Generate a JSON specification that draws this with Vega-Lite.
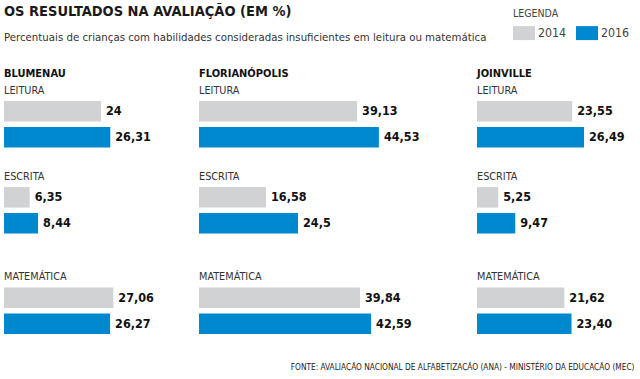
{
  "$schema": "https://vega.github.io/schema/vega-lite/v6.json",
  "padding": {"left": 4, "top": 4, "right": 0, "bottom": 0},
  "background": "white",
  "title": {
    "text": "OS RESULTADOS NA AVALIAÇÃO (EM %)",
    "subtitle": "Percentuais de crianças com habilidades consideradas insuficientes em leitura ou matemática",
    "anchor": "start",
    "frame": "group",
    "font": "DejaVu Sans Condensed, Liberation Sans Narrow, sans-serif",
    "fontSize": 14.5,
    "fontWeight": "bold",
    "color": "#1a1a1a",
    "subtitleFont": "DejaVu Sans Condensed, Liberation Sans Narrow, sans-serif",
    "subtitleFontSize": 11.35,
    "subtitleColor": "#333333",
    "subtitlePadding": 12,
    "offset": -35
  },
  "data": {
    "values": [
      {"city": "Blumenau", "subject": "LEITURA", "year": "2014", "value": 24, "label": "24"},
      {"city": "Blumenau", "subject": "LEITURA", "year": "2016", "value": 26.31, "label": "26,31"},
      {"city": "Blumenau", "subject": "ESCRITA", "year": "2014", "value": 6.35, "label": "6,35"},
      {"city": "Blumenau", "subject": "ESCRITA", "year": "2016", "value": 8.44, "label": "8,44"},
      {"city": "Blumenau", "subject": "MATEMÁTICA", "year": "2014", "value": 27.06, "label": "27,06"},
      {"city": "Blumenau", "subject": "MATEMÁTICA", "year": "2016", "value": 26.27, "label": "26,27"},
      {"city": "Florianópolis", "subject": "LEITURA", "year": "2014", "value": 39.13, "label": "39,13"},
      {"city": "Florianópolis", "subject": "LEITURA", "year": "2016", "value": 44.53, "label": "44,53"},
      {"city": "Florianópolis", "subject": "ESCRITA", "year": "2014", "value": 16.58, "label": "16,58"},
      {"city": "Florianópolis", "subject": "ESCRITA", "year": "2016", "value": 24.5, "label": "24,5"},
      {"city": "Florianópolis", "subject": "MATEMÁTICA", "year": "2014", "value": 39.84, "label": "39,84"},
      {"city": "Florianópolis", "subject": "MATEMÁTICA", "year": "2016", "value": 42.59, "label": "42,59"},
      {"city": "Joinville", "subject": "LEITURA", "year": "2014", "value": 23.55, "label": "23,55"},
      {"city": "Joinville", "subject": "LEITURA", "year": "2016", "value": 26.49, "label": "26,49"},
      {"city": "Joinville", "subject": "ESCRITA", "year": "2014", "value": 5.25, "label": "5,25"},
      {"city": "Joinville", "subject": "ESCRITA", "year": "2016", "value": 9.47, "label": "9,47"},
      {"city": "Joinville", "subject": "MATEMÁTICA", "year": "2014", "value": 21.62, "label": "21,62"},
      {"city": "Joinville", "subject": "MATEMÁTICA", "year": "2016", "value": 23.40, "label": "23,40"}
    ]
  },
  "spacing": 0,
  "bounds": "flush",
  "resolve": {"scale": {"x": "independent", "y": "shared", "color": "shared"}},
  "hconcat": [
    {
      "width": 195,
      "height": 215,
      "title": {"text": "BLUMENAU", "anchor": "start", "frame": "group", "offset": 5.5, "fontSize": 11, "fontWeight": "bold", "color": "#111111", "font": "DejaVu Sans Condensed, Liberation Sans Narrow, sans-serif"},
      "transform": [{"filter": "datum.city === 'Blumenau'"}],
      "encoding": {
        "y": {"field": "subject", "type": "nominal", "axis": null,
          "scale": {"type": "point", "padding": 1, "domain": ["LEITURA", "s1", "s2", "s3", "s4", "s5", "ESCRITA", "s6", "s7", "s8", "s9", "s10", "s11", "MATEMÁTICA"]}},
        "x": {"field": "value", "type": "quantitative", "axis": null, "scale": {"domain": [0, 48.27], "nice": false, "zero": true}}
      },
      "layer": [
        {"transform": [{"filter": "datum.year === '2014'"}], "mark": {"type": "bar", "height": 20.5},
         "encoding": {"color": {"field": "year", "type": "nominal", "scale": {"domain": ["2014", "2016"], "range": ["#d1d2d4", "#0088cf"]},
           "legend": {"title": "LEGENDA", "orient": "none", "direction": "horizontal", "legendX": 509, "legendY": -87.9, "padding": 0, "symbolType": "M-1,-1H2.14V1H-1Z", "symbolSize": 196, "symbolStrokeWidth": 0, "symbolOpacity": 1, "labelFontSize": 12.3, "labelColor": "#444444", "labelOffset": 11, "columnPadding": 9, "titleFontSize": 10.5, "titleFontWeight": "normal", "titleColor": "#444444", "titlePadding": 6.5, "labelFont": "DejaVu Sans Condensed, Liberation Sans Narrow, sans-serif", "titleFont": "DejaVu Sans Condensed, Liberation Sans Narrow, sans-serif"}}}},
        {"transform": [{"filter": "datum.year === '2016'"}], "mark": {"type": "bar", "height": 20.5, "yOffset": 26},
         "encoding": {"color": {"field": "year", "type": "nominal"}}},
        {"transform": [{"filter": "datum.year === '2014'"}], "mark": {"type": "text", "align": "left", "baseline": "middle", "dx": 5, "fontSize": 12.5, "fontWeight": "bold", "color": "#111111"},
         "encoding": {"text": {"field": "label"}}},
        {"transform": [{"filter": "datum.year === '2016'"}], "mark": {"type": "text", "align": "left", "baseline": "middle", "dx": 5, "yOffset": 26, "fontSize": 12.5, "fontWeight": "bold", "color": "#111111"},
         "encoding": {"text": {"field": "label"}}},
        {"transform": [{"filter": "datum.year === '2014'"}], "mark": {"type": "text", "align": "left", "baseline": "middle", "yOffset": -20.5, "fontSize": 10.8, "color": "#333333"},
         "encoding": {"x": {"datum": 0}, "text": {"field": "subject"}}}
      ]
    },
    {
      "width": 278,
      "height": 215,
      "title": {"text": "FLORIANÓPOLIS", "anchor": "start", "frame": "group", "offset": 5.5, "fontSize": 11, "fontWeight": "bold", "color": "#111111", "font": "DejaVu Sans Condensed, Liberation Sans Narrow, sans-serif"},
      "transform": [{"filter": "datum.city === 'Florianópolis'"}],
      "encoding": {
        "y": {"field": "subject", "type": "nominal", "axis": null,
          "scale": {"type": "point", "padding": 1, "domain": ["LEITURA", "s1", "s2", "s3", "s4", "s5", "ESCRITA", "s6", "s7", "s8", "s9", "s10", "s11", "MATEMÁTICA"]}},
        "x": {"field": "value", "type": "quantitative", "axis": null, "scale": {"domain": [0, 68.81], "nice": false, "zero": true}}
      },
      "layer": [
        {"transform": [{"filter": "datum.year === '2014'"}], "mark": {"type": "bar", "height": 20.5},
         "encoding": {"color": {"field": "year", "type": "nominal"}}},
        {"transform": [{"filter": "datum.year === '2016'"}], "mark": {"type": "bar", "height": 20.5, "yOffset": 26},
         "encoding": {"color": {"field": "year", "type": "nominal"}}},
        {"transform": [{"filter": "datum.year === '2014'"}], "mark": {"type": "text", "align": "left", "baseline": "middle", "dx": 5, "fontSize": 12.5, "fontWeight": "bold", "color": "#111111"},
         "encoding": {"text": {"field": "label"}}},
        {"transform": [{"filter": "datum.year === '2016'"}], "mark": {"type": "text", "align": "left", "baseline": "middle", "dx": 5, "yOffset": 26, "fontSize": 12.5, "fontWeight": "bold", "color": "#111111"},
         "encoding": {"text": {"field": "label"}}},
        {"transform": [{"filter": "datum.year === '2014'"}], "mark": {"type": "text", "align": "left", "baseline": "middle", "yOffset": -20.5, "fontSize": 10.8, "color": "#333333"},
         "encoding": {"x": {"datum": 0}, "text": {"field": "subject"}}}
      ]
    },
    {
      "width": 157,
      "height": 215,
      "title": {"text": "JOINVILLE", "anchor": "start", "frame": "group", "offset": 5.5, "fontSize": 11, "fontWeight": "bold", "color": "#111111", "font": "DejaVu Sans Condensed, Liberation Sans Narrow, sans-serif"},
      "transform": [{"filter": "datum.city === 'Joinville'"}],
      "encoding": {
        "y": {"field": "subject", "type": "nominal", "axis": null,
          "scale": {"type": "point", "padding": 1, "domain": ["LEITURA", "s1", "s2", "s3", "s4", "s5", "ESCRITA", "s6", "s7", "s8", "s9", "s10", "s11", "MATEMÁTICA"]}},
        "x": {"field": "value", "type": "quantitative", "scale": {"domain": [0, 38.86], "nice": false, "zero": true},
          "axis": {"title": "FONTE: AVALIAÇÃO NACIONAL DE ALFABETIZAÇÃO (ANA) - MINISTÉRIO DA EDUCAÇÃO (MEC)", "labels": false, "ticks": false, "domain": false, "grid": false, "titleAnchor": "end", "titleFontSize": 8.25, "titleFontWeight": "normal", "titleColor": "#222222", "titlePadding": 50, "titleFont": "DejaVu Sans Condensed, Liberation Sans Narrow, sans-serif"}}
      },
      "layer": [
        {"transform": [{"filter": "datum.year === '2014'"}], "mark": {"type": "bar", "height": 20.5},
         "encoding": {"color": {"field": "year", "type": "nominal"}}},
        {"transform": [{"filter": "datum.year === '2016'"}], "mark": {"type": "bar", "height": 20.5, "yOffset": 26},
         "encoding": {"color": {"field": "year", "type": "nominal"}}},
        {"transform": [{"filter": "datum.year === '2014'"}], "mark": {"type": "text", "align": "left", "baseline": "middle", "dx": 5, "fontSize": 12.5, "fontWeight": "bold", "color": "#111111"},
         "encoding": {"text": {"field": "label"}}},
        {"transform": [{"filter": "datum.year === '2016'"}], "mark": {"type": "text", "align": "left", "baseline": "middle", "dx": 5, "yOffset": 26, "fontSize": 12.5, "fontWeight": "bold", "color": "#111111"},
         "encoding": {"text": {"field": "label"}}},
        {"transform": [{"filter": "datum.year === '2014'"}], "mark": {"type": "text", "align": "left", "baseline": "middle", "yOffset": -20.5, "fontSize": 10.8, "color": "#333333"},
         "encoding": {"x": {"datum": 0}, "text": {"field": "subject"}}}
      ]
    }
  ],
  "config": {
    "view": {"stroke": null},
    "font": "DejaVu Sans Condensed, Liberation Sans Narrow, sans-serif"
  }
}
